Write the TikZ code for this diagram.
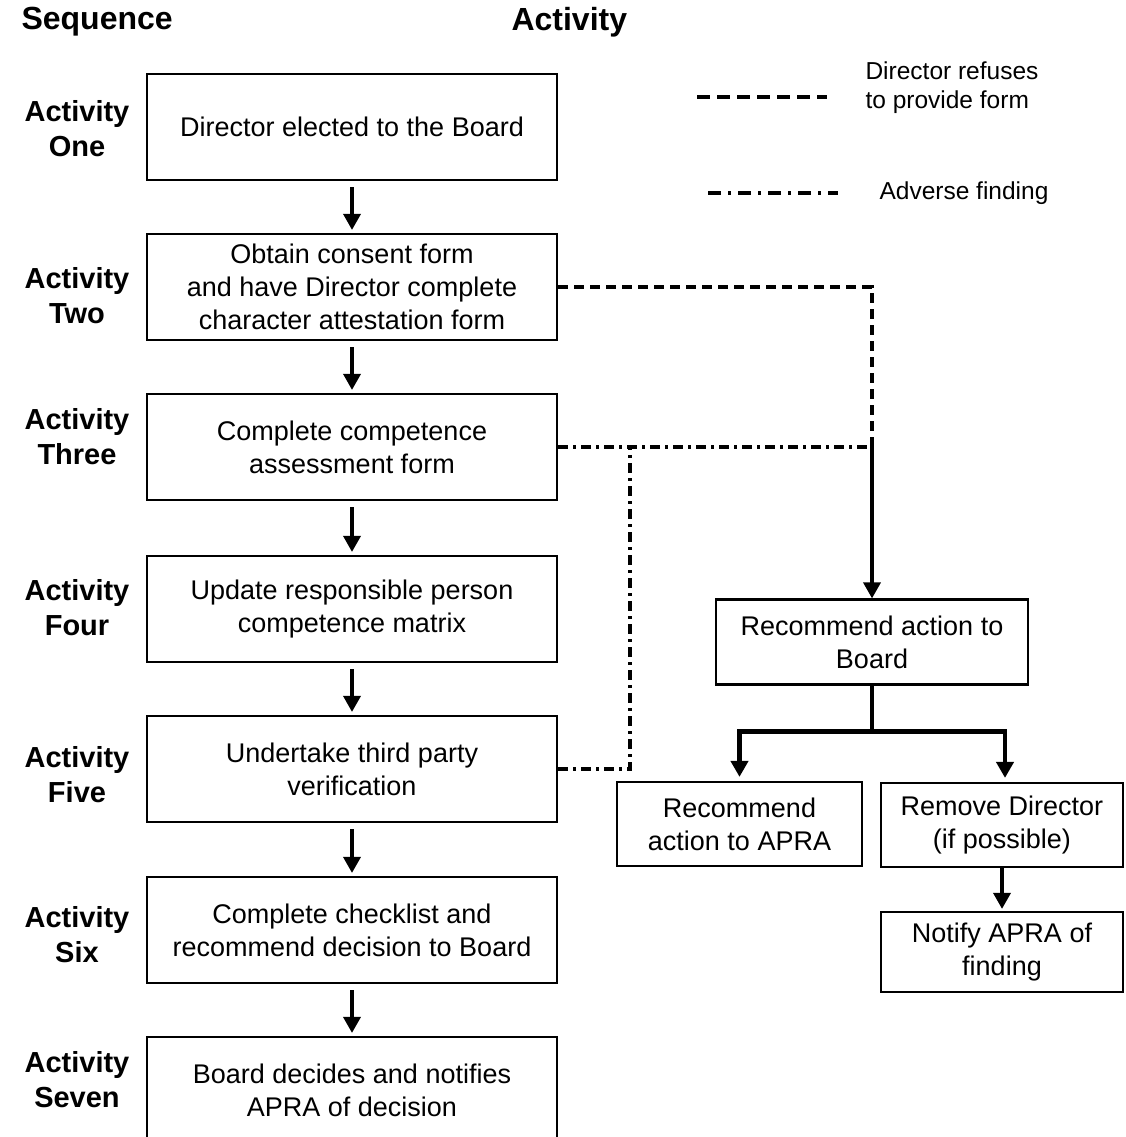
\documentclass[tikz,border=0pt]{standalone}
\usepackage{fontspec}
\setmainfont{Liberation Sans}
\usetikzlibrary{arrows.meta,calc}
\begin{document}
\begin{tikzpicture}[x=1pt,y=-1pt,
  box/.style={draw,line width=2.2pt,align=center,inner sep=0pt,
    font=\fontsize{27}{33}\selectfont},
  lbox/.style={box,minimum width=410pt,minimum height=106pt},
  seqlabel/.style={align=center,font=\bfseries\fontsize{29}{35}\selectfont},
  title/.style={anchor=west,font=\bfseries\fontsize{32}{38}\selectfont},
  legtext/.style={anchor=west,align=left,font=\fontsize{24.5}{29}\selectfont},
  arr/.style={line width=3.5pt,-{Triangle[length=16pt,width=17pt]}},
  rarr/.style={line width=4.5pt,-{Triangle[length=16pt,width=17pt]}},
  thick4/.style={line width=4.5pt},
  refuse/.style={line width=3.5pt,dash pattern=on 10pt off 6pt},
  adverse/.style={line width=3.5pt,dash pattern=on 10pt off 5pt on 3pt off 5pt}]
\useasboundingbox (0,0) rectangle (1125,1137);
\clip (0,0) rectangle (1125,1137);
% titles
\node[title] (tseq) at (18,22) {Sequence};
\node[title] (tact) at (508,22) {Activity};
% legend
\coordinate (l1a) at (697,97); \coordinate (l1b) at (827,97);
\coordinate (l2a) at (708,193); \coordinate (l2b) at (838,193);
\draw[line width=3.5pt,dash pattern=on 13pt off 7pt] (l1a) -- (l1b);
\draw[line width=3.5pt,dash pattern=on 13pt off 7pt on 3pt off 7pt] (l2a) -- (l2b);
\node[legtext] (lt1) at (862,88) {Director refuses\\to provide form};
\node[legtext] (lt2) at (876,193) {Adverse finding};
% left boxes
\node[lbox] (b1) at (352,127) {Director elected to the Board};
\node[lbox] (b2) at (352,287) {\raisebox{0pt}[\height][\depth]{}Obtain consent form\\and have Director complete\\character attestation form};
\node[lbox] (b3) at (352,447) {Complete competence\\assessment form};
\node[lbox] (b4) at (352,609) {Update responsible person\\competence matrix};
\node[lbox] (b5) at (352,769) {Undertake third party\\verification};
\node[lbox] (b6) at (352,930) {Complete checklist and\\recommend decision to Board};
\node[lbox] (b7) at (352,1090) {Board decides and notifies\\APRA of decision};
% sequence labels
\node[seqlabel] (s1) at (77,129) {Activity\\One};
\node[seqlabel] (s2) at (77,296) {Activity\\Two};
\node[seqlabel] (s3) at (77,437) {Activity\\Three};
\node[seqlabel] (s4) at (77,608) {Activity\\Four};
\node[seqlabel] (s5) at (77,775) {Activity\\Five};
\node[seqlabel] (s6) at (77,935) {Activity\\Six};
\node[seqlabel] (s7) at (77,1080) {Activity\\Seven};
% left arrows
\foreach \a/\b in {b1/b2,b2/b3,b3/b4,b4/b5,b5/b6,b6/b7}
  \draw[arr,shorten <=6pt,shorten >=3pt] (\a) -- (\b);
% right boxes
\node[box,minimum width=312pt,minimum height=85pt] (rab) at (872,642) {Recommend action to\\Board};
\node[box,minimum width=245pt,minimum height=84pt] (rapra) at (739.5,824) {Recommend\\action to APRA};
\node[box,minimum width=242pt,minimum height=84pt] (rem) at (1002,825) {Remove Director\\(if possible)};
\node[box,minimum width=242pt,minimum height=80pt] (notify) at (1002,952) {Notify APRA of\\finding};
% junctions
\coordinate (j) at (rab.north |- b3.east);
\coordinate (v) at (630,447);
\coordinate (split) at ($(rab.south)+(0,46)$);
% dashed and dash-dot connectors
\draw[refuse] (b2.east) -| (j);
\draw[adverse] (b3.east) -- (j);
\draw[adverse] (b5.east) -| (v);
\draw[arr] (j) -- (rab.north);
% split
\draw[thick4] (rab.south) -- (split);
\draw[rarr] (split) -| ($(rapra.north)+(0,-4)$);
\draw[rarr] (split) -| ($(rem.north)+(3,-4)$);
\draw[arr,shorten >=2pt] (rem) -- (notify);
\end{tikzpicture}
\end{document}
